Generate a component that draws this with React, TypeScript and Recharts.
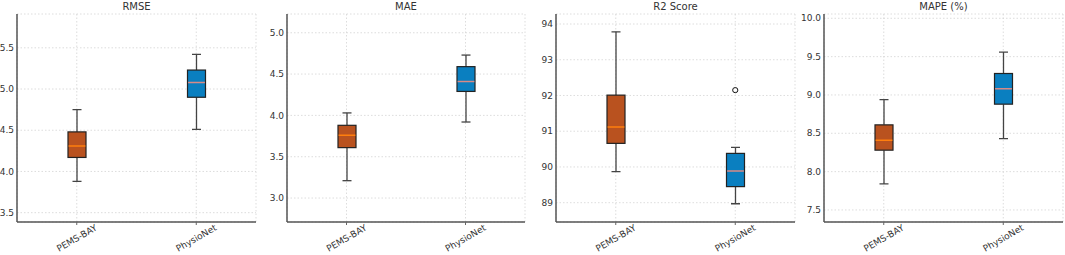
import {
	Bar,
	CartesianGrid,
	ComposedChart,
	Scatter,
	XAxis,
	YAxis,
} from "recharts";

const categories = ["PEMS-BAY", "PhysioNet"];

// [min, q1, median, q3, max] for each category
const rmseStats = [
	[3.88, 4.17, 4.31, 4.48, 4.75],
	[4.51, 4.9, 5.08, 5.23, 5.42],
];
const maeStats = [
	[3.21, 3.61, 3.76, 3.88, 4.03],
	[3.92, 4.29, 4.41, 4.59, 4.73],
];
const r2Stats = [
	[89.87, 90.66, 91.12, 92.01, 93.78],
	[88.97, 89.45, 89.89, 90.38, 90.55],
];
const mapeStats = [
	[7.84, 8.28, 8.41, 8.61, 8.94],
	[8.43, 8.88, 9.08, 9.28, 9.56],
];
const r2Outliers = [null, 92.15];

const rmseTicks = [3.5, 4.0, 4.5, 5.0, 5.5];
const maeTicks = [3.0, 3.5, 4.0, 4.5, 5.0];
const r2Ticks = [89, 90, 91, 92, 93, 94];
const mapeTicks = [7.5, 8.0, 8.5, 9.0, 9.5, 10.0];

const boxFills = ["#b9521f", "#0a7fc0"];
const medianColors = ["#ff7f0e", "#d98a86"];

const FONT = "DejaVu Sans, sans-serif";

interface Row {
	name: string;
	min: number;
	q1: number;
	median: number;
	q3: number;
	max: number;
	outlier: number | null;
	idx: number;
}

const buildRows = (stats: number[][], outliers?: (number | null)[]): Row[] =>
	categories.map((name, i) => ({
		name,
		min: stats[i][0],
		q1: stats[i][1],
		median: stats[i][2],
		q3: stats[i][3],
		max: stats[i][4],
		outlier: outliers ? outliers[i] : null,
		idx: i,
	}));

// whiskers, box and median drawn inside the [min, max] range bar
// eslint-disable-next-line @typescript-eslint/no-explicit-any
const BoxShape = (props: any) => {
	const { x, y, width, height, payload } = props;
	const top = Math.min(y, y + height);
	const h = Math.abs(height);
	const span = payload.max - payload.min;
	const toY = (v: number) => top + (h * (payload.max - v)) / span;
	const cx = x + width / 2;
	const capHalf = width / 4;
	const yq1 = toY(payload.q1);
	const yq3 = toY(payload.q3);
	const ym = toY(payload.median);
	return (
		<g>
			<line x1={cx} x2={cx} y1={top} y2={yq3} stroke="#444" strokeWidth={1.3} />
			<line x1={cx} x2={cx} y1={yq1} y2={top + h} stroke="#444" strokeWidth={1.3} />
			<line x1={cx - capHalf} x2={cx + capHalf} y1={top} y2={top} stroke="#444" strokeWidth={1.3} />
			<line x1={cx - capHalf} x2={cx + capHalf} y1={top + h} y2={top + h} stroke="#444" strokeWidth={1.3} />
			<rect
				x={x}
				y={yq3}
				width={width}
				height={yq1 - yq3}
				fill={boxFills[payload.idx]}
				stroke="#222"
				strokeWidth={1.2}
			/>
			<line
				x1={x + 0.6}
				x2={x + width - 0.6}
				y1={ym}
				y2={ym}
				stroke={medianColors[payload.idx]}
				strokeWidth={1.5}
			/>
		</g>
	);
};

// eslint-disable-next-line @typescript-eslint/no-explicit-any
const OutlierShape = (props: any) => {
	const { cx, cy, payload } = props;
	if (payload == null || payload.outlier == null || !Number.isFinite(cy)) return <g />;
	return <circle cx={cx} cy={cy} r={2.6} fill="none" stroke="#111" strokeWidth={1} />;
};

// eslint-disable-next-line @typescript-eslint/no-explicit-any
const CategoryTick = (props: any) => {
	const { x, y, payload } = props;
	return (
		<g transform={`translate(${x},${y + 11}) rotate(-30)`}>
			<text textAnchor="middle" dy="0.35em" fontSize={9} fill="#333" fontFamily={FONT}>
				{payload.value}
			</text>
		</g>
	);
};

interface PanelProps {
	title: string;
	rows: Row[];
	left: number;
	axisWidth: number;
	plotWidth: number;
	domain: [number, number];
	ticks: number[];
	tickFormat: (v: number) => string;
	hasOutliers?: boolean;
}

function Panel({
	title,
	rows,
	left,
	axisWidth,
	plotWidth,
	domain,
	ticks,
	tickFormat,
	hasOutliers,
}: PanelProps) {
	const width = axisWidth + plotWidth + 2;
	return (
		<div style={{ position: "absolute", left, top: 0, width, height: 255 }}>
			<div
				style={{
					position: "absolute",
					left: axisWidth,
					width: plotWidth,
					top: 1,
					textAlign: "center",
					fontSize: 10,
					lineHeight: "12px",
					color: "#333",
					fontFamily: FONT,
				}}
			>
				{title}
			</div>
			<ComposedChart
				width={width}
				height={255}
				data={rows}
				margin={{ top: 14, right: 2, left: 0, bottom: 0 }}
			>
				<CartesianGrid stroke="#d4d4d4" strokeDasharray="1.5 2" strokeWidth={0.8} />
				<XAxis
					dataKey="name"
					height={33}
					tickSize={3}
					tickLine={{ stroke: "#666" }}
					axisLine={{ stroke: "#555", strokeWidth: 1.5 }}
					tick={<CategoryTick />}
					interval={0}
				/>
				<YAxis
					width={axisWidth}
					type="number"
					domain={domain}
					ticks={ticks}
					allowDataOverflow
					tickLine={false}
					tickSize={0}
					tickMargin={3}
					tickFormatter={tickFormat}
					axisLine={{ stroke: "#555", strokeWidth: 1.5 }}
					tick={{ fontSize: 9, fill: "#333", fontFamily: FONT }}
				/>
				<Bar
					dataKey={(d: Row) => [d.min, d.max]}
					barSize={18}
					shape={<BoxShape />}
					isAnimationActive={false}
				/>
				{hasOutliers && (
					<Scatter dataKey="outlier" shape={<OutlierShape />} isAnimationActive={false} />
				)}
			</ComposedChart>
		</div>
	);
}

const oneDecimal = (v: number) => v.toFixed(1);
const integer = (v: number) => v.toFixed(0);

export default function App() {
	return (
		<div
			style={{
				position: "absolute",
				left: 0,
				top: 0,
				width: 1065,
				height: 255,
				background: "#fff",
				overflow: "hidden",
			}}
		>
			<Panel
				title="RMSE"
				rows={buildRows(rmseStats)}
				left={-4}
				axisWidth={21}
				plotWidth={239}
				domain={[3.387, 5.91]}
				ticks={rmseTicks}
				tickFormat={oneDecimal}
			/>
			<Panel
				title="MAE"
				rows={buildRows(maeStats)}
				left={260}
				axisWidth={27}
				plotWidth={238}
				domain={[2.71, 5.227]}
				ticks={maeTicks}
				tickFormat={oneDecimal}
			/>
			<Panel
				title="R2 Score"
				rows={buildRows(r2Stats, r2Outliers)}
				left={530}
				axisWidth={26}
				plotWidth={239}
				domain={[88.46, 94.28]}
				ticks={r2Ticks}
				tickFormat={integer}
				hasOutliers
			/>
			<Panel
				title="MAPE (%)"
				rows={buildRows(mapeStats)}
				left={795}
				axisWidth={29}
				plotWidth={239}
				domain={[7.343, 10.056]}
				ticks={mapeTicks}
				tickFormat={oneDecimal}
			/>
		</div>
	);
}
